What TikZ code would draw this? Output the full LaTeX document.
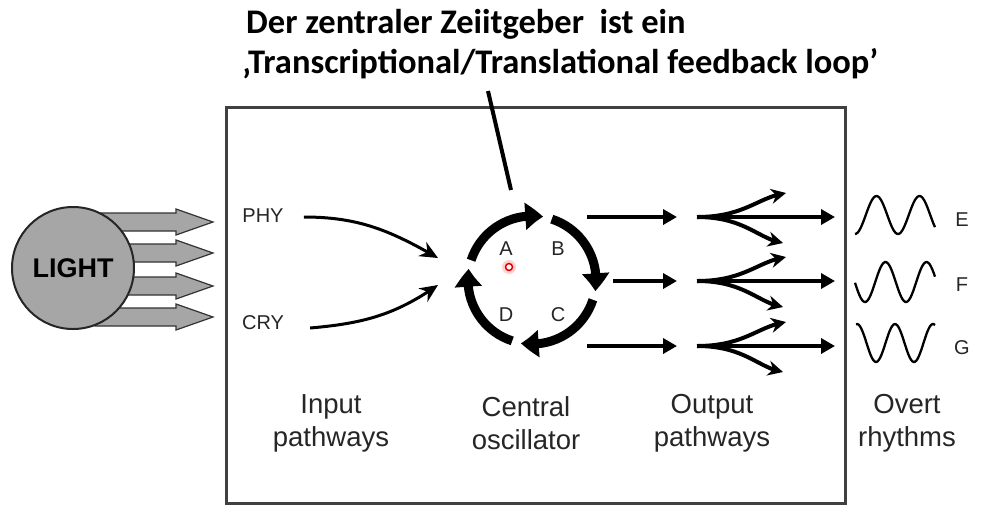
\documentclass[tikz,border=0pt]{standalone}
\usepackage{fontspec}
\setmainfont{Liberation Sans}
\newfontfamily\titlefont{Carlito}
\usetikzlibrary{arrows.meta,bending}
\begin{document}
\begin{tikzpicture}[x=1pt,y=1pt,
  lbl/.style={font=\fontsize{20}{22}\selectfont, inner sep=0pt, text=black!85},
  caplbl/.style={font=\fontsize{27.5}{33}\selectfont, inner sep=0pt, align=center, text=black!85},
  ttl/.style={font=\titlefont\bfseries\fontsize{34.5}{40}\selectfont, inner sep=0pt, anchor=base west},
  blockarrow/.style={draw=black!80, line width=1.2pt, fill=gray!70},
  osc/.style={line width=9pt, -{Triangle[length=18pt,width=26pt,bend]}},
  inarrow/.style={line width=3pt, -{Stealth[length=18pt,width=16pt]}},
  outarrow/.style={line width=3.5pt, -{Triangle[length=14pt,width=15pt]}},
  branch/.style={line width=4pt, -{Stealth[length=15pt,width=15pt]}},
  wave/.style={line width=2.3pt, smooth, samples=60}]
\useasboundingbox (0,0) rectangle (988,-515);
\fill[white] (0,0) rectangle (988,-515);

% title
\node[ttl] (t1) at (246,-33) {Der zentraler Zeiitgeber\ \ ist ein};
\node[ttl] (t2) at (242,-73) {‚Transcriptional/Translational feedback loop’};

% box
\draw[black!75, line width=3pt] (226,-107) rectangle (845,-503);

% annotation line
\coordinate (ann1) at (488,-91);
\coordinate (ann2) at (511,-190);
\draw[line width=4pt] (ann1) -- (ann2);

% light
\foreach \y in {222,253,286,317}
  \draw[blockarrow] (95,-\y+9) -- (176,-\y+9) -- (176,-\y+13) -- (213,-\y)
     -- (176,-\y-13) -- (176,-\y-9) -- (95,-\y-9) -- cycle;
\node[circle, draw=black!85, line width=2pt, fill=gray!70, minimum size=122pt,
      inner sep=0pt, font=\bfseries\fontsize{27}{27}\selectfont] (light) at (73,-268) {LIGHT};

% input
\node[lbl] (phy) at (263,-216) {PHY};
\node[lbl] (cry) at (263,-323) {CRY};
\coordinate (inP) at (438,-258);
\coordinate (inC) at (438,-285);
\draw[inarrow] ([xshift=20pt,yshift=-1pt]phy.east) to[out=0, in=150] (inP);
\draw[inarrow] ([xshift=26pt,yshift=-5pt]cry.east) to[out=5, in=-145] (inC);

% oscillator
\coordinate (c) at (532,-280);
\draw[osc] ([shift={(162:64)}]c) arc[start angle=162, end angle=80, radius=64];
\draw[osc] ([shift={(72:64)}]c) arc[start angle=72, end angle=-10, radius=64];
\draw[osc] ([shift={(-18:64)}]c) arc[start angle=-18, end angle=-100, radius=64];
\draw[osc] ([shift={(-108:64)}]c) arc[start angle=-108, end angle=-190, radius=64];
\node[lbl] (A) at (506,-249) {A};
\node[lbl] (B) at (558,-249) {B};
\node[lbl] (C) at (558,-315) {C};
\node[lbl] (D) at (506,-315) {D};
\node[circle, fill=red!25, opacity=0.7, minimum size=14pt, inner sep=0pt] (dotglow) at (509,-267) {};
\node[circle, draw=red!90!black, line width=1.5pt, fill=white, minimum size=7pt, inner sep=0pt] (dot) at (509,-267) {};

% output pathways
\foreach \y/\xs in {217/587, 281/613, 346/587}{
  \coordinate (os) at (\xs,-\y);
  \coordinate (oe) at (677,-\y);
  \draw[outarrow] (os) -- (oe);
  \coordinate (fs) at (697,-\y);
  \coordinate (fe) at (835,-\y);
  \draw[outarrow] (fs) -- (fe);
  \coordinate (bu) at (786,-\y+24);
  \coordinate (bd) at (783,-\y-26);
  \draw[branch] (fs) .. controls (745,-\y) and (758,-\y+20) .. (bu);
  \draw[branch] (fs) .. controls (745,-\y) and (758,-\y-22) .. (bd);
}

% overt rhythms
\draw[wave] plot[domain=855:935] (\x, {-215 + 19*sin((\x-855)/43*360 - 90)});
\draw[wave] plot[domain=855:935] (\x, {-282 + 20*sin((\x-865)/41*360 - 90)});
\draw[wave] plot[domain=856:935] (\x, {-343 + 19*sin((\x-857)/38*360 + 90)});
\node[lbl] (E) at (962,-220) {E};
\node[lbl] (F) at (962,-285) {F};
\node[lbl] (G) at (962,-348) {G};

% captions
\node[caplbl] (cin) at (331,-423) {Input\\pathways};
\node[caplbl] (cosc) at (526,-423) {Central\\oscillator};
\node[caplbl] (cout) at (712,-423) {Output\\pathways};
\node[caplbl] (covt) at (907,-423) {Overt\\rhythms};
\end{tikzpicture}
\end{document}
